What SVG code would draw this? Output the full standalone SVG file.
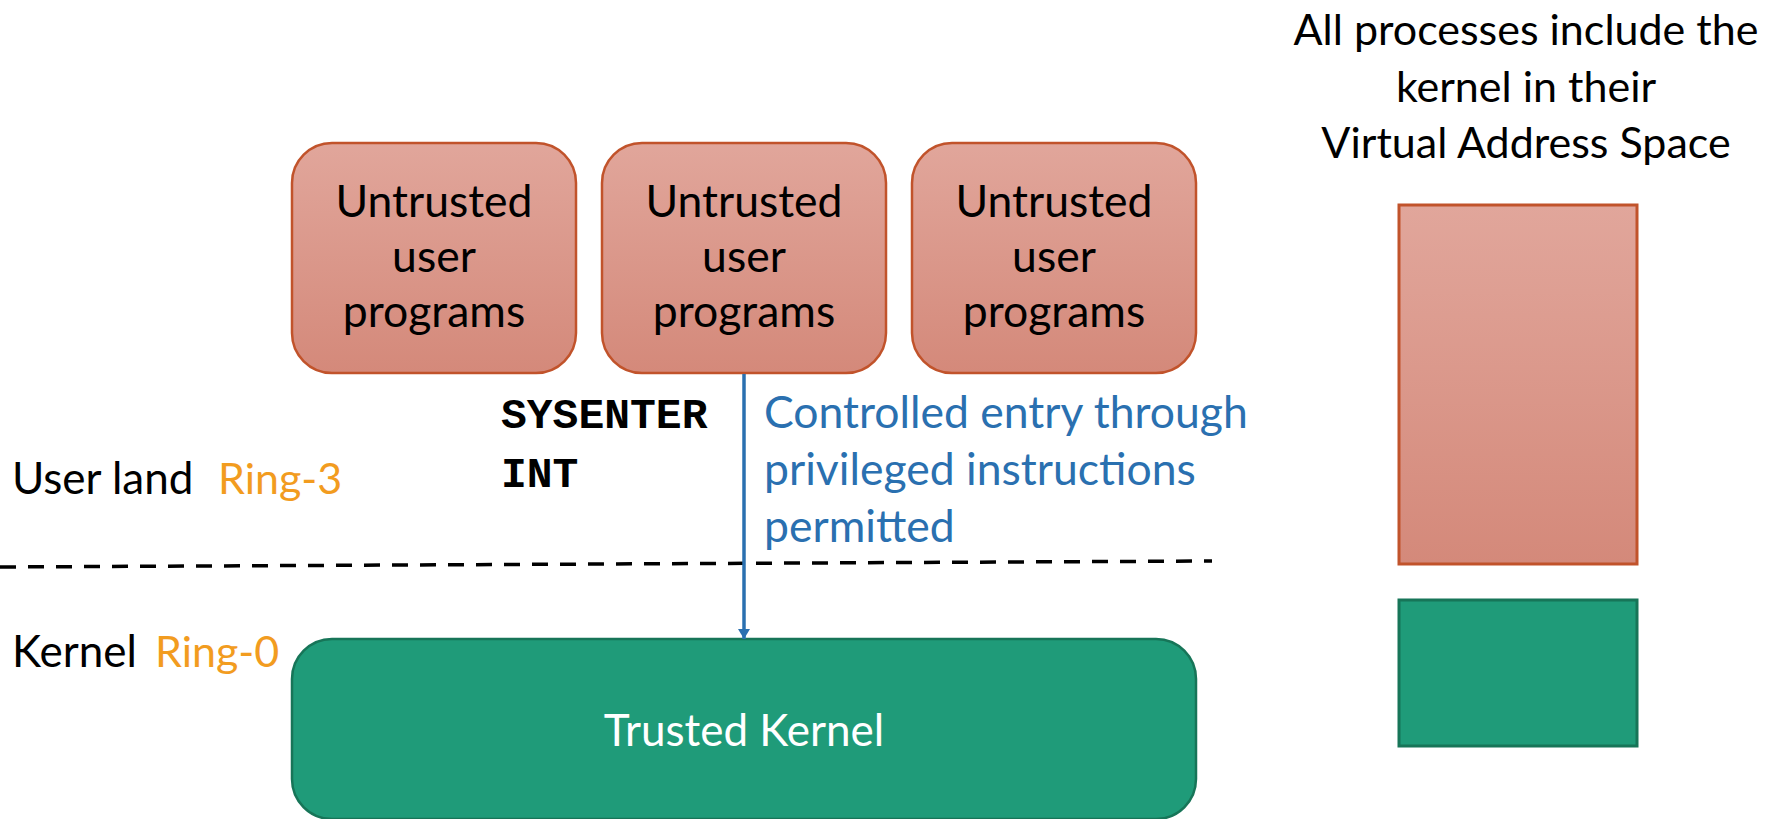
<svg xmlns="http://www.w3.org/2000/svg" width="1777" height="819" viewBox="0 0 1777 819">
  <defs>
    <linearGradient id="userFill" x1="0" y1="0" x2="0" y2="1">
      <stop offset="0" stop-color="#E1A69B"/>
      <stop offset="1" stop-color="#D4897A"/>
    </linearGradient>
    <marker id="arrowBlue" markerWidth="10" markerHeight="12" refX="10" refY="6" orient="auto" markerUnits="userSpaceOnUse" viewBox="0 0 10 12">
      <path d="M0,0 L10,6 L0,12 Z" fill="#2A70B0"/>
    </marker>
    <style>
      .txt { font-family: Lato, "Open Sans", "Liberation Sans", sans-serif; }
      .user { fill: url(#userFill); stroke: #C1532B; stroke-width: 2.5; }
      .kern { fill: #1F9B79; stroke: #177558; stroke-width: 2.5; }
      .label { font-size: 44.5px; fill: #000; text-anchor: middle; }
      .side { font-size: 44px; fill: #000; }
      .ring { font-size: 43px; fill: #F29C1F; }
      .mono { font-family: "Liberation Mono", "DejaVu Sans Mono", monospace; font-weight: bold; font-size: 43px; fill: #000; }
      .note { font-size: 44.5px; fill: #2A70B0; }
    </style>
  </defs>

  <!-- privilege boundary -->
  <line x1="0" y1="567" x2="1212" y2="561" stroke="#000" stroke-width="3.5" stroke-dasharray="16 12"/>

  <!-- layer labels -->
  <g id="userland-label" class="txt">
    <text class="side" x="12" y="494">User land</text>
    <text class="ring" x="218" y="494">Ring-3</text>
  </g>
  <g id="kernel-label" class="txt">
    <text class="side" x="12" y="667">Kernel</text>
    <text class="ring" x="155" y="667">Ring-0</text>
  </g>

  <!-- user programs -->
  <g id="prog1" class="txt">
    <rect class="user" x="292" y="143" width="284" height="230" rx="40" ry="40"/>
    <text class="label" x="434" y="217">Untrusted</text>
    <text class="label" x="434" y="272">user</text>
    <text class="label" x="434" y="327">programs</text>
  </g>
  <g id="prog2" class="txt">
    <rect class="user" x="602" y="143" width="284" height="230" rx="40" ry="40"/>
    <text class="label" x="744" y="217">Untrusted</text>
    <text class="label" x="744" y="272">user</text>
    <text class="label" x="744" y="327">programs</text>
  </g>
  <g id="prog3" class="txt">
    <rect class="user" x="912" y="143" width="284" height="230" rx="40" ry="40"/>
    <text class="label" x="1054" y="217">Untrusted</text>
    <text class="label" x="1054" y="272">user</text>
    <text class="label" x="1054" y="327">programs</text>
  </g>

  <!-- trusted kernel -->
  <g id="kernel" class="txt">
    <rect class="kern" x="292" y="639" width="904" height="180" rx="40" ry="40"/>
    <text x="744" y="746" font-size="44" fill="#FFFFFF" text-anchor="middle">Trusted Kernel</text>
  </g>

  <!-- instructions -->
  <g id="instructions">
    <text class="mono" x="501" y="428">SYSENTER</text>
    <text class="mono" x="501" y="487">INT</text>
  </g>

  <!-- controlled entry note -->
  <g id="entry-note" class="txt">
    <text class="note" x="764" y="428">Controlled entry through</text>
    <text class="note" x="764" y="485">privileged instructions</text>
    <text class="note" x="764" y="542">permitted</text>
  </g>

  <!-- connectors -->
  <g id="connectors">
    <line x1="744" y1="374" x2="744" y2="639" stroke="#2A70B0" stroke-width="3.5" marker-end="url(#arrowBlue)"/>
  </g>

  <!-- address space illustration -->
  <g id="address-space-title" class="txt">
    <text x="1526" y="45" font-size="43" text-anchor="middle">All processes include the</text>
    <text x="1526" y="102" font-size="43" text-anchor="middle">kernel in their</text>
    <text x="1526" y="158" font-size="43" text-anchor="middle">Virtual Address Space</text>
  </g>
  <g id="user-space">
    <rect x="1399" y="205" width="238" height="359" fill="url(#userFill)" stroke="#C1532B" stroke-width="3"/>
  </g>
  <g id="kernel-space">
    <rect x="1399" y="600" width="238" height="146" fill="#1F9B79" stroke="#177558" stroke-width="3"/>
  </g>
</svg>
